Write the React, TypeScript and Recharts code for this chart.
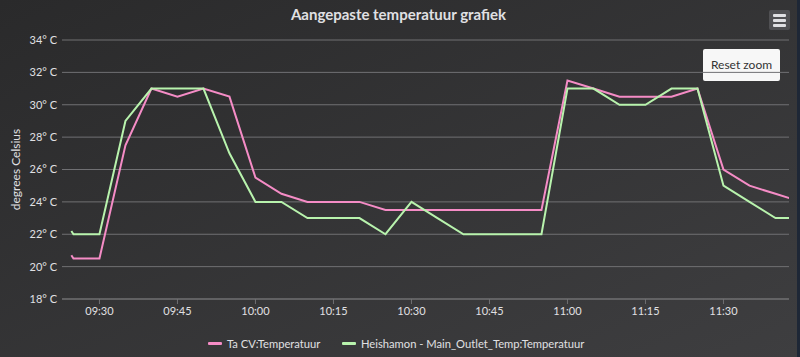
import { LineChart, Line, XAxis, YAxis, CartesianGrid, Label } from 'recharts'

// minutes since midnight
const times = [564.6, 565, 570, 575, 580, 585, 590, 595, 600, 605, 610, 615, 620, 625, 630, 635, 640, 645, 650, 655, 660, 665, 670, 675, 680, 685, 690, 695, 700, 705]
const taCv = [20.7, 20.5, 20.5, 27.5, 31, 30.5, 31, 30.5, 25.5, 24.5, 24, 24, 24, 23.5, 23.5, 23.5, 23.5, 23.5, 23.5, 23.5, 31.5, 31, 30.5, 30.5, 30.5, 31, 26, 25, 24.5, 24]
const heishamon = [22.2, 22, 22, 29, 31, 31, 31, 27, 24, 24, 23, 23, 23, 22, 24, 23, 22, 22, 22, 22, 31, 31, 30, 30, 31, 31, 25, 24, 23, 23]
const xTicks = [570, 585, 600, 615, 630, 645, 660, 675, 690]
const yTicks = [18, 20, 22, 24, 26, 28, 30, 32, 34]

const PINK = '#f58cc6'
const GREEN = '#b8f3ad'
const TEXT = '#E0E0E3'
const GRID = '#707073'
const FONT = 'Lato, "Open Sans", sans-serif'

const seriesNames = ['Ta CV:Temperatuur', 'Heishamon - Main_Outlet_Temp:Temperatuur']

const fmtTime = (v: number) =>
  `${String(Math.floor(v / 60)).padStart(2, '0')}:${String(Math.round(v % 60)).padStart(2, '0')}`

export default function App() {
  const data = times.map((t, i) => ({ t, ta: taCv[i], heis: heishamon[i] }))

  return (
    <div style={{ position: 'absolute', left: 0, top: 0, width: 800, height: 357, background: '#1e2736' }}>
      <div
        style={{
          position: 'absolute',
          left: 0,
          top: 0,
          width: 797,
          height: 357,
          background: 'linear-gradient(to bottom right, #2a2a2b, #3e3e40)',
          fontFamily: FONT,
        }}
      >
        <div
          style={{
            position: 'absolute',
            left: 0,
            width: 797,
            top: 5,
            textAlign: 'center',
            color: TEXT,
            fontSize: 15,
            fontWeight: 700,
          }}
        >
          Aangepaste temperatuur grafiek
        </div>

        {/* export menu button */}
        <div style={{ position: 'absolute', left: 769, top: 10, width: 21, height: 20, background: '#505053', borderRadius: 2 }}>
          {[4, 9, 14].map((y) => (
            <div key={y} style={{ position: 'absolute', left: 4, top: y, width: 13, height: 2.5, background: TEXT, borderRadius: 1 }} />
          ))}
        </div>

        <div
          style={{
            position: 'absolute',
            left: 703,
            top: 49,
            width: 77,
            height: 32,
            background: '#f7f7f7',
            borderRadius: 2,
            color: '#333',
            fontSize: 12,
            lineHeight: '31px',
            textAlign: 'center',
          }}
        >
          Reset zoom
        </div>

        <LineChart width={797} height={357} data={data} margin={{ top: 40, right: 8, left: 0, bottom: 28 }} style={{ position: 'absolute', left: 0, top: 0 }}>
          <CartesianGrid stroke={GRID} vertical={false} />
          <XAxis
            dataKey="t"
            type="number"
            domain={[562.8, 702.6]}
            allowDataOverflow
            ticks={xTicks}
            tickFormatter={fmtTime}
            height={30}
            stroke={GRID}
            tickSize={5}
            tickMargin={3}
            tick={{ fill: TEXT, fontSize: 11, fontFamily: FONT }}
          />
          <YAxis
            type="number"
            domain={[18, 34]}
            ticks={yTicks}
            width={62}
            axisLine={false}
            tickLine={false}
            tickSize={0}
            tickMargin={5}
            tickFormatter={(v) => `${v}° C`}
            tick={{ fill: TEXT, fontSize: 11, fontFamily: FONT }}
          >
            <Label
              content={({ viewBox }: any) => (
                <text
                  x={viewBox.x + 20}
                  y={viewBox.y + viewBox.height / 2}
                  transform={`rotate(-90 ${viewBox.x + 20} ${viewBox.y + viewBox.height / 2})`}
                  textAnchor="middle"
                  fill={TEXT}
                  fontSize={12}
                  fontFamily={FONT}
                >
                  degrees Celsius
                </text>
              )}
            />
          </YAxis>
          <Line type="linear" dataKey="ta" stroke={PINK} strokeWidth={2} dot={false} activeDot={false} isAnimationActive={false} />
          <Line type="linear" dataKey="heis" stroke={GREEN} strokeWidth={2} dot={false} activeDot={false} isAnimationActive={false} />
        </LineChart>

        {/* legend */}
        {seriesNames.map((name, i) => (
          <div
            key={name}
            style={{ position: 'absolute', left: i === 0 ? 208 : 342, top: 335, height: 16, display: 'flex', alignItems: 'center', color: TEXT, fontSize: 11.2 }}
          >
            <div style={{ width: 14, height: 3, borderRadius: 1, background: i === 0 ? PINK : GREEN, marginRight: 5 }} />
            <span>{name}</span>
          </div>
        ))}
      </div>
    </div>
  )
}
